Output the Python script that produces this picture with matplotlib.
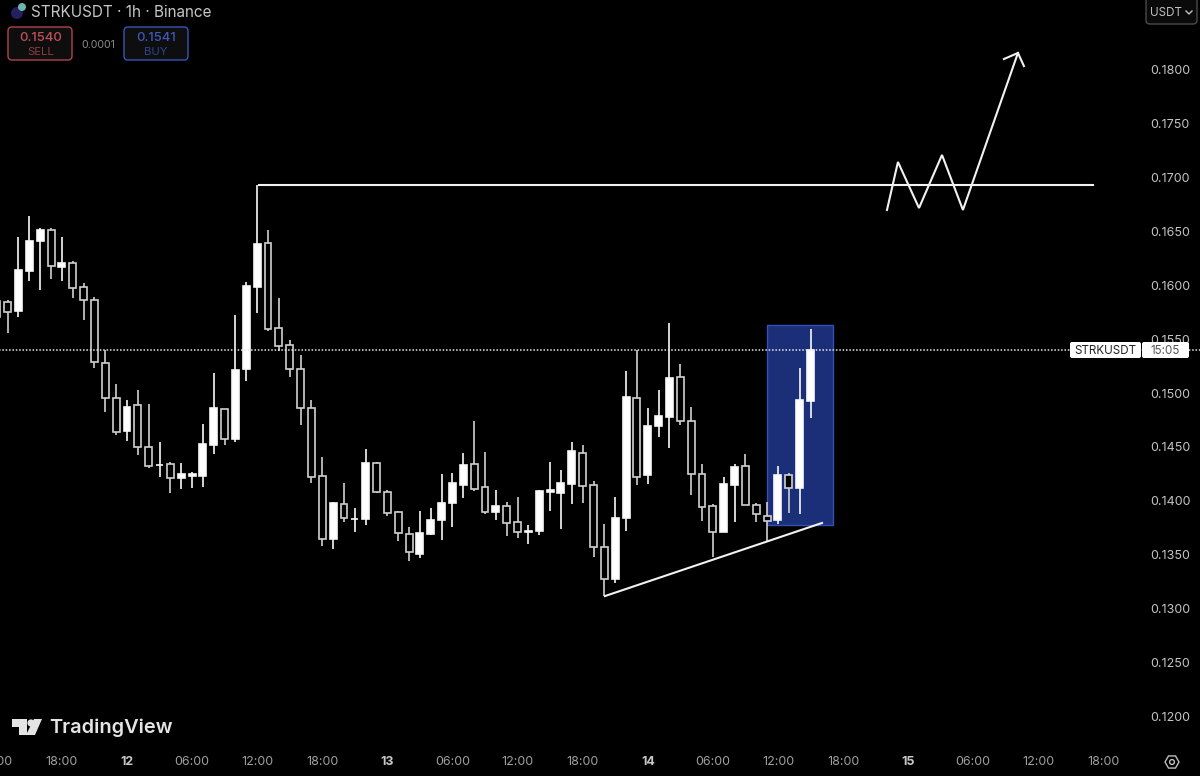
import matplotlib
matplotlib.use("Agg")
import matplotlib.pyplot as plt
from matplotlib.patches import FancyBboxPatch, Rectangle, Circle, Polygon, RegularPolygon
from matplotlib.transforms import Affine2D

hours = list(range(-12, 64))
opens = [.15854,.15842,.15765,.16130,.16415,.16511,.16173,.16204,.15981,.15861,.15276,.14957,.14647,.14889,.14495,.14328,.14337,.14207,.14226,.14226,.14517,.14854,.14570,.15223,.15981,.16396,.15604,.15443,
         .15223,.14864,.14226,.13647,.13966,.13827,.13827,.14353,.14077,.13898,.13687,.13508,.13687,.13817,.13975,.14145,.14337,.14130,.13898,.13947,.13805,.13709,.13715,.14077,.14068,.14158,
         .14446,.14145,.13567,.13269,.13836,.14957,.14235,.14697,.14774,.15145,.14743,.14244,.13947,.13709,.14148,.14319,.13963,.13861,.13817,.14235,.14115,.14926]
closes = [.15703,.15749,.16146,.16415,.16511,.16176,.16204,.15975,.15864,.15285,.14957,.14641,.14873,.14495,.14325,.14334,.14207,.14245,.14245,.14526,.14858,.14570,.15217,.15991,.16384,.15594,.15440,.15226,
          .14864,.14217,.13641,.13975,.13836,.13833,.14347,.14077,.13888,.13697,.13526,.13697,.13817,.13975,.14164,.14328,.14105,.13898,.13947,.13796,.13706,.13715,.14087,.14096,.14164,.14458,
          .14139,.13570,.13269,.13836,.14966,.14220,.14697,.14783,.15136,.14737,.14248,.13941,.13709,.14155,.14316,.13957,.13879,.13808,.14235,.14115,.14935,.15396]
highs = [.15864,.15864,.16446,.16644,.16529,.16536,.16452,.16226,.16025,.15895,.15399,.15080,.14935,.15028,.14898,.14548,.14362,.14347,.14266,.14709,.15189,.14854,.15724,.16034,.16932,.16514,.15885,.15492,
         .15353,.14935,.14402,.13984,.14161,.13929,.14477,.14359,.14099,.13907,.13758,.13907,.13929,.14244,.14260,.14439,.14740,.14452,.14099,.13984,.14031,.13771,.14096,.14359,.14282,.14542,
         .14520,.14186,.13780,.14031,.15207,.15399,.14857,.15028,.15647,.15269,.14873,.14337,.13966,.14223,.14340,.14437,.13981,.13988,.14322,.14260,.15235,.15594]
lows = [.15703,.15554,.15709,.16037,.15957,.16056,.16043,.15885,.15678,.15229,.14827,.14610,.14557,.14424,.14306,.14223,.14074,.14111,.14121,.14130,.14433,.14517,.14548,.15111,.15746,.15579,.15393,.15152,
        .14703,.14161,.13582,.13548,.13805,.13712,.13771,.14071,.13861,.13628,.13442,.13467,.13681,.13635,.13758,.14028,.14090,.13879,.13820,.13672,.13656,.13600,.13678,.13907,.13737,.13969,
        .13978,.13480,.13115,.13232,.13721,.14142,.14152,.14591,.14492,.14703,.14049,.13811,.13480,.13709,.13799,.13957,.13799,.13629,.13780,.13889,.13873,.14771]

price_ticks = [.12,.125,.13,.135,.14,.145,.15,.155,.16,.165,.17,.175,.18]
time_ticks = [-12,-6,0,6,12,18,24,30,36,42,48,54,60,66,72,78,84,90,96]
time_labels = ["12:00","18:00","12","06:00","12:00","18:00","13","06:00","12:00","18:00","14","06:00","12:00","18:00","15","06:00","12:00","18:00",""]
bold_labels = {"12","13","14","15"}

last_price = 0.1540
level_h = [12.05, 89.1]
level_p = [.16932, .16932]
trend_h = [44.05, 64.06]
trend_p = [.13114, .13793]
box_h = [58.99, 65.07]
box_p = [.13774, .15632]
path_h = [70.05, 71.06, 73.0, 75.12, 77.05, 82.12]
path_p = [.16700, .17146, .16718, .17211, .16700, .18158]
head_h = [80.83, 82.12, 82.67]
head_p = [.18102, .18158, .18037]

FONT = ['Inter', 'DejaVu Sans']
plt.rcParams['font.family'] = FONT
fig = plt.figure(figsize=(12, 7.76), dpi=100, facecolor='black')
ax = fig.add_axes([-0.01, 0, 1.01, 1], facecolor='black')
ax.set_xlim(-12.81, 98.9)
ax.set_ylim(0.11443, 0.18650)
for s in ax.spines.values():
    s.set_visible(False)
ax.set_axisbelow(True)
ax.yaxis.tick_right()
ax.set_yticks(price_ticks)
ax.set_yticklabels([f"{p:.4f}" for p in price_ticks])
ax.tick_params(axis='y', length=0, pad=-36, labelsize=9.0, labelcolor='#c4c4c4')
ax.set_xticks(time_ticks)
ax.set_xticklabels(time_labels)
ax.tick_params(axis='x', length=0, pad=-14.5, labelsize=9.0, labelcolor='#a0a0a0')
for lab in ax.get_xticklabels():
    if lab.get_text() in bold_labels:
        lab.set_fontweight('bold')
        lab.set_color('#c8c8c8')

# highlighted box
ax.add_patch(Rectangle((box_h[0], box_p[0]), box_h[1]-box_h[0], box_p[1]-box_p[0],
                       facecolor='#1b2e78', edgecolor='#3450b8', linewidth=1.0, zorder=1))

# candles
for h, o, c, hi, lo in zip(hours, opens, closes, highs, lows):
    up = c >= o
    col = '#f8f8f8' if up else '#d0d0d0'
    ax.vlines(h, lo, hi, color=col, linewidth=1.2, zorder=3)
    ax.bar(h, abs(c-o), bottom=min(o, c), width=0.64,
           facecolor='#ffffff' if up else 'black', edgecolor=col, linewidth=1.2, zorder=4)

ax.axhline(last_price, color='#e8e8e8', linewidth=1.1, linestyle=(0, (1, 1.2)), zorder=5)

# drawings
ax.plot(level_h, level_p, color='#f2f2f2', linewidth=1.5, zorder=6, solid_capstyle='butt')
ax.plot(trend_h, trend_p, color='#f2f2f2', linewidth=1.5, zorder=6)
ax.plot(path_h, path_p, color='#f2f2f2', linewidth=1.5, zorder=6, solid_joinstyle='miter')
ax.plot(head_h, head_p, color='#f2f2f2', linewidth=1.5, zorder=6, solid_joinstyle='miter')

# interface items, placed in image pixels
px = Affine2D().scale(1, -1).translate(0, 776)

def box(x0, y0, x1, y1, fc, ec, r=4, z=8, lw=1.0):
    ax.add_patch(FancyBboxPatch((x0+r, y0+r), x1-x0-2*r, y1-y0-2*r,
                 boxstyle=f"round,pad={r},rounding_size={r}", fc=fc, ec=ec, lw=lw,
                 transform=px, clip_on=False, zorder=z))

def label(x, y, s, color, size, ha='center', weight='normal', z=9):
    ax.text(x, y, s, color=color, fontsize=size, ha=ha, va='center', weight=weight,
            transform=px, clip_on=False, zorder=z, family=FONT)

# header
ax.add_patch(Circle((17, 13), 6, fc='#241f5e', ec='none', transform=px, zorder=8))
ax.add_patch(Circle((22, 7), 4, fc='#6fb5ac', ec='none', transform=px, zorder=8))
label(31, 12.5, "STRKUSDT · 1h · Binance", '#c6c6c6', 11.0, ha='left')
box(8, 27, 72, 60, '#0e0e0e', '#b0444f')
label(41, 38, "0.1540", '#c2505a', 9.4, weight='medium')
label(41, 52, "SELL", '#8e3a44', 8.2)
label(98, 45, "0.0001", '#8c8c8c', 7.6)
box(124, 27, 188, 60, '#0e0e0e', '#3a55b8')
label(156, 38, "0.1541", '#3f59b8', 9.4, weight='medium')
label(156, 52, "BUY", '#2f4390', 8.2)

# currency button
box(1146, -4, 1197, 24, '#0a0a0a', '#4a4a4a', r=4)
label(1150, 13, "USDT", '#c0c0c0', 8.4, ha='left')
ax.plot([1186, 1189, 1192], [11, 14, 11], color='#c0c0c0', lw=1.0, transform=px, clip_on=False, zorder=9)

# last price tag
box(1070, 342, 1141, 358, '#ffffff', 'none', r=2)
box(1142, 342, 1189, 358, '#ffffff', 'none', r=2)
label(1105.5, 351, "STRKUSDT", '#222222', 8.4)
label(1165.5, 351, "15:05", '#555555', 8.4)

# logo
ax.add_patch(Polygon([(12, 719), (27, 719), (27, 735), (19, 735), (19, 727), (12, 727)],
                     fc='#e4e4e4', ec='none', transform=px, zorder=8))
ax.add_patch(Circle((31, 723), 3.6, fc='#e4e4e4', ec='none', transform=px, zorder=8))
ax.add_patch(Polygon([(34, 719), (42, 719), (35, 735), (26, 735)],
                     fc='#e4e4e4', ec='none', transform=px, zorder=8))
label(49, 728, "TradingView", '#e4e4e4', 14.4, ha='left', weight='semibold')

# settings icon
ax.add_patch(RegularPolygon((1172, 762), 6, radius=7, orientation=0.5236, fc='none', ec='#bdbdbd', lw=1.0,
                            transform=px, clip_on=False, zorder=8))
ax.add_patch(Circle((1172, 762), 2.4, fc='none', ec='#bdbdbd', lw=1.0, transform=px, clip_on=False, zorder=8))

fig.savefig("out.png", dpi=100, facecolor='black')
